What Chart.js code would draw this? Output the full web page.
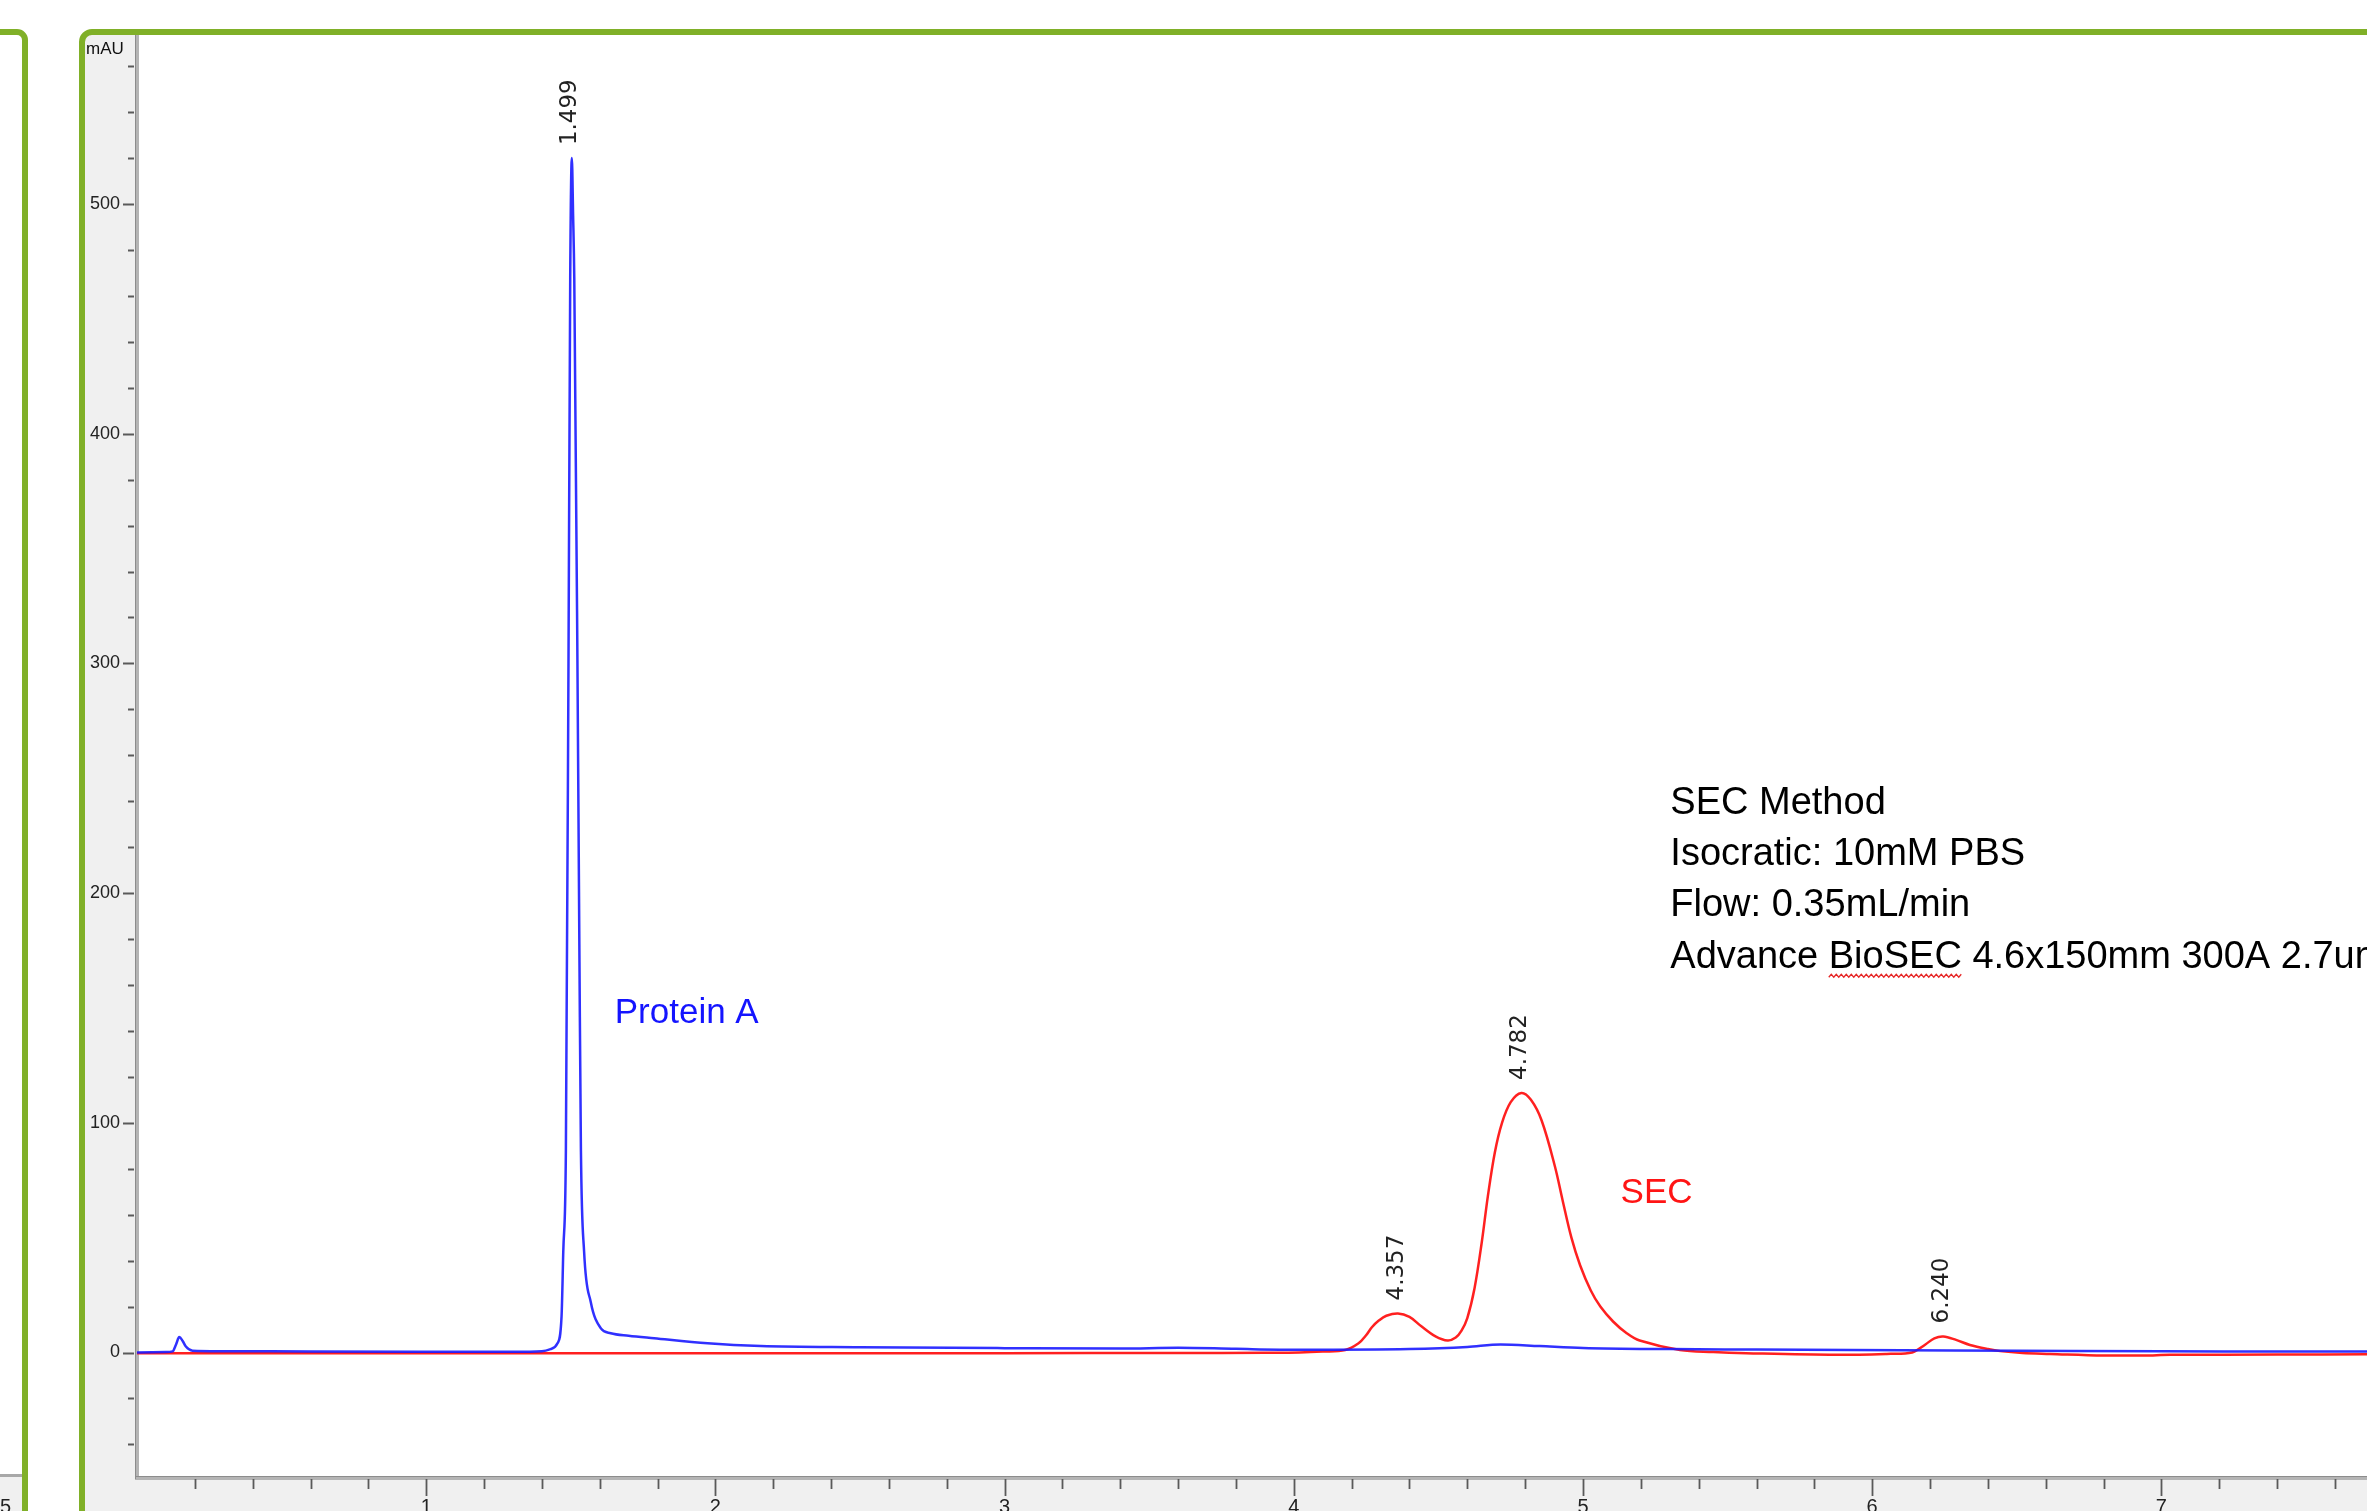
<!DOCTYPE html>
<html>
<head>
<meta charset="utf-8">
<title>Protein A / SEC chromatogram</title>
<script src="https://cdn.jsdelivr.net/npm/chart.js@4.4.1/dist/chart.umd.min.js"></script>
<style>
  html, body { margin: 0; padding: 0; background: #fff; overflow: hidden; }
  #chart { display: block; }
</style>
</head>
<body>
<canvas id="chart" width="2367" height="1511"></canvas>
<script>
// Protein A trace (blue), retention time in min / absorbance in mAU
const blueTime = [0, 0.10, 0.123, 0.135, 0.146, 0.158, 0.169, 0.192, 0.29, 0.6, 1.0, 1.30, 1.40, 1.43, 1.454, 1.468, 1.474, 1.483, 1.492, 1.498, 1.5036, 1.508, 1.512, 1.523, 1.530, 1.535, 1.546, 1.569, 1.604, 1.638, 1.70, 1.788, 1.973, 2.157, 2.5, 3.0, 3.4, 3.6, 3.8, 4.02, 4.4, 4.6, 4.715, 4.85, 5.0, 5.3, 5.6, 5.925, 6.5, 7.0, 7.711];
const blueAbs = [0, 0.2, 0.5, 3.5, 6.7, 5, 2.6, 0.8, 0.6, 0.4, 0.3, 0.3, 0.6, 1.5, 4, 15.6, 44, 88, 300, 468, 520, 495, 468, 300, 170, 88, 44, 22, 10.5, 8.4, 7.3, 6.2, 4, 2.8, 2.3, 1.9, 1.7, 2.1, 1.6, 1.2, 1.5, 2.4, 3.5, 2.8, 2, 1.5, 1.3, 1.1, 0.8, 0.5, 0.4];

// SEC trace (red)
const redTime = [0, 1.0, 2.0, 3.0, 3.6, 3.9, 4.02, 4.10, 4.178, 4.224, 4.25, 4.27, 4.295, 4.32, 4.36, 4.40, 4.44, 4.49, 4.532, 4.56, 4.58, 4.60, 4.625, 4.65, 4.671, 4.695, 4.72, 4.75, 4.787, 4.82, 4.857, 4.903, 4.93, 4.96, 4.99, 5.027, 5.06, 5.104, 5.15, 5.196, 5.335, 5.45, 5.565, 5.875, 6.05, 6.138, 6.184, 6.215, 6.246, 6.29, 6.338, 6.40, 6.443, 6.52, 6.616, 6.8, 6.94, 7.03, 7.4, 7.711];
const redAbs = [-0.3, -0.3, -0.3, -0.3, -0.2, -0.1, 0, 0.4, 1.1, 4, 7.5, 11, 14, 16, 17, 15.5, 11.5, 7, 5.2, 6.5, 9.5, 15, 28, 48, 68, 87, 100, 109, 113, 110, 101, 81, 66, 50, 38, 27, 20, 13.5, 8.5, 5.2, 1.1, 0.2, -0.3, -1, -0.6, 0, 3.5, 6.2, 7, 5.5, 3.3, 1.5, 0.6, -0.2, -0.6, -1.3, -1.3, -1, -0.9, -0.8];

// integrated peaks: label = retention time
const peakTimes = [1.499, 4.357, 4.782, 6.240];
const peakHeights = [520, 17, 113, 7];

const xTickValues = [1, 2, 3, 4, 5, 6, 7];
const yTickValues = [0, 100, 200, 300, 400, 500];

const methodLines = ["SEC Method", "Isocratic: 10mM PBS", "Flow: 0.35mL/min", "Advance BioSEC 4.6x150mm 300A 2.7um"];

const SANS = '"Liberation Sans", Arial, sans-serif';
const GREEN = 'rgb(128,176,40)';

const toPoints = (xs, ys) => xs.map((x, i) => ({ x: x, y: ys[i] }));

const framePlugin = {
  id: 'frame',
  beforeDraw(chart) {
    const { ctx, chartArea: a } = chart;
    ctx.save();
    ctx.fillStyle = '#ffffff';
    ctx.fillRect(0, 0, chart.width, chart.height);
    // edge of the neighbouring panel
    ctx.fillStyle = '#f0f0f0';
    ctx.fillRect(0, 1477, 22, 40);
    ctx.fillStyle = '#a8a8a8';
    ctx.fillRect(0, 1474, 22, 3);
    ctx.fillStyle = '#222';
    ctx.font = '20px ' + SANS;
    ctx.textBaseline = 'top';
    ctx.fillText('5', 0, 1497);
    // grey frame of this panel, white plot area
    ctx.fillStyle = '#f0f0f0';
    ctx.fillRect(85, 35, chart.width, chart.height);
    ctx.fillStyle = '#ffffff';
    ctx.fillRect(a.left, a.top, a.right - a.left, a.bottom - a.top);
    ctx.restore();
  },
  beforeDatasetsDraw(chart) {
    const { ctx, chartArea: a, scales } = chart;
    const x = scales.x, y = scales.y;
    ctx.save();
    // axis lines
    ctx.fillStyle = '#b4b4b4';
    ctx.fillRect(a.left - 2, a.top, 4, a.bottom - a.top + 2);
    ctx.fillRect(a.left - 2, a.bottom - 1, a.right - a.left + 2, 4);
    ctx.fillStyle = '#8c8c8c';
    ctx.fillRect(a.left - 2, a.top, 1, a.bottom - a.top + 2);
    ctx.fillRect(a.left - 2, a.bottom - 1, a.right - a.left + 2, 1);
    // tick marks, major and minor
    ctx.strokeStyle = '#5a5a5a';
    ctx.lineWidth = 1.8;
    ctx.beginPath();
    for (let v = -40; v <= 560; v += 20) {
      const py = Math.round(y.getPixelForValue(v)) + 0.5;
      const len = v % 100 === 0 ? 11 : 6;
      ctx.moveTo(a.left - 3, py);
      ctx.lineTo(a.left - 3 - len, py);
    }
    for (let i = 1; i <= 38; i++) {
      const v = i * 0.2;
      const px = Math.round(x.getPixelForValue(v)) + 0.5;
      if (px > a.right) break;
      const len = i % 5 === 0 ? 17 : 10;
      ctx.moveTo(px, a.bottom + 2);
      ctx.lineTo(px, a.bottom + 2 + len);
    }
    ctx.stroke();
    ctx.restore();
  },
  afterDatasetsDraw(chart) {
    const { ctx, scales } = chart;
    const x = scales.x, y = scales.y;
    ctx.save();
    // axis unit
    ctx.fillStyle = '#111';
    ctx.font = '17px ' + SANS;
    ctx.textBaseline = 'top';
    ctx.textAlign = 'left';
    ctx.fillText('mAU', 86, 41);

    // peak retention times, rotated
    ctx.font = '23px "DejaVu Sans", sans-serif';
    ctx.fillStyle = '#222';
    peakTimes.forEach((t, i) => {
      const px = x.getPixelForValue(t);
      const py = y.getPixelForValue(peakHeights[i]) - 13;
      ctx.save();
      ctx.translate(px, py);
      ctx.rotate(-Math.PI / 2);
      ctx.textAlign = 'left';
      ctx.textBaseline = 'middle';
      ctx.fillText(t.toFixed(3), 0, 0);
      ctx.restore();
    });

    // trace names
    ctx.textBaseline = 'alphabetic';
    ctx.font = '35px ' + SANS;
    ctx.fillStyle = 'rgb(20,20,255)';
    ctx.fillText('Protein A', x.getPixelForValue(1.652), y.getPixelForValue(143.5));
    ctx.fillStyle = 'rgb(255,20,20)';
    ctx.fillText('SEC', x.getPixelForValue(5.13), y.getPixelForValue(65.2));

    // method box
    ctx.font = '38px ' + SANS;
    ctx.fillStyle = '#000';
    const mx = x.getPixelForValue(5.302);
    const my = y.getPixelForValue(234.5);
    methodLines.forEach((line, i) => {
      ctx.fillText(line, mx, my + i * 51.3);
    });
    // spell-check squiggle under "BioSEC"
    const w0 = ctx.measureText('Advance ').width;
    const w1 = ctx.measureText('BioSEC').width;
    const uy = my + 3 * 51.3 + 8;
    ctx.strokeStyle = 'rgb(230,40,40)';
    ctx.lineWidth = 1.3;
    ctx.beginPath();
    for (let k = 0; k <= w1; k += 2.5) {
      const yy = uy + ((Math.round(k / 2.5) % 2) ? -1.5 : 1.5);
      if (k === 0) ctx.moveTo(mx + w0 + k, yy); else ctx.lineTo(mx + w0 + k, yy);
    }
    ctx.stroke();
    ctx.restore();
  },
  afterDraw(chart) {
    const { ctx } = chart;
    ctx.save();
    ctx.strokeStyle = GREEN;
    ctx.lineWidth = 6;
    ctx.beginPath();
    ctx.roundRect(-60, 32, 85, 1600, 8);
    ctx.stroke();
    ctx.beginPath();
    ctx.roundRect(82, 32, 2400, 1600, 10);
    ctx.stroke();
    ctx.restore();
  }
};

const ctx = document.getElementById('chart').getContext('2d');
const chromChart = new Chart(ctx, {
  type: 'line',
  data: {
    datasets: [
      {
        label: 'SEC',
        data: toPoints(redTime, redAbs),
        borderColor: 'rgba(255,20,20,0.95)',
        borderWidth: 2.5,
        pointRadius: 0,
        tension: 0.35,
        fill: false,
        order: 2
      },
      {
        label: 'Protein A',
        data: toPoints(blueTime, blueAbs),
        borderColor: 'rgba(25,25,255,0.9)',
        borderWidth: 2.5,
        pointRadius: 0,
        cubicInterpolationMode: 'monotone',
        fill: false,
        order: 1
      }
    ]
  },
  options: {
    responsive: false,
    animation: false,
    devicePixelRatio: 1,
    layout: { padding: { left: 85, top: 35, right: 0, bottom: 0 } },
    plugins: { legend: { display: false }, tooltip: { enabled: false } },
    scales: {
      x: {
        type: 'linear',
        min: 0,
        max: 7.711,
        grid: { display: false, drawTicks: false },
        border: { display: false },
        afterBuildTicks: (scale) => { scale.ticks = xTickValues.map(v => ({ value: v })); },
        afterFit: (scale) => { scale.height = 34; },
        ticks: {
          padding: 18,
          autoSkip: false,
          maxRotation: 0,
          color: '#222',
          font: { family: SANS, size: 20 }
        }
      },
      y: {
        type: 'linear',
        min: -54.2,
        max: 573.6,
        grid: { display: false, drawTicks: false },
        border: { display: false },
        afterBuildTicks: (scale) => { scale.ticks = yTickValues.map(v => ({ value: v })); },
        afterFit: (scale) => { scale.width = 52; },
        ticks: {
          padding: 17,
          color: '#222',
          font: { family: SANS, size: 18 }
        }
      }
    }
  },
  plugins: [framePlugin]
});
</script>
</body>
</html>
